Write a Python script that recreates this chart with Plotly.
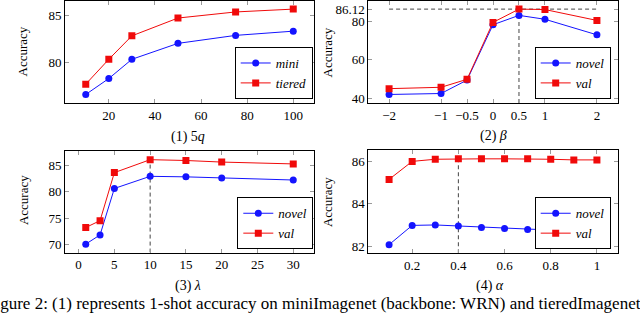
import plotly.graph_objects as go

# ---------------- data ----------------
q_vals = [10, 20, 30, 50, 75, 100]
q_mini = [76.6, 78.3, 80.35, 82.05, 82.9, 83.35]
q_tiered = [77.7, 80.35, 82.85, 84.75, 85.4, 85.7]

beta_vals = [-2, -1, -0.5, 0, 0.5, 1, 2]
beta_novel = [42.2, 42.7, 49.6, 78.1, 82.9, 80.9, 72.9]
beta_val = [45.2, 45.9, 50.0, 79.3, 86.12, 85.9, 80.3]

lambda_vals = [1, 3, 5, 10, 15, 20, 30]
lambda_novel = [70.05, 71.8, 80.6, 82.9, 82.8, 82.6, 82.2]
lambda_val = [73.2, 74.5, 83.6, 86.05, 85.9, 85.6, 85.25]

alpha_vals = [0.1, 0.2, 0.3, 0.4, 0.5, 0.6, 0.7, 0.8, 0.9, 1.0]
alpha_novel = [82.07, 82.98, 83.0, 82.95, 82.88, 82.83, 82.79, 82.76, 82.73, 82.70]
alpha_val = [85.15, 86.0, 86.1, 86.12, 86.12, 86.12, 86.12, 86.1, 86.07, 86.07]

best_beta = 0.5
best_lambda = 10
best_alpha = 0.4

q_xticks = [20, 40, 60, 80, 100]
q_yticks = [80, 85]
beta_xticks = [-2, -1, -0.5, 0, 0.5, 1, 2]
beta_xlabels = ["\u22122", "\u22121", "\u22120.5", "0", "0.5", "1", "2"]
beta_yticks = [40, 60, 80, 86.12]
beta_ylabels = ["40", "60", "80", "86.12"]
lambda_xticks = [0, 5, 10, 15, 20, 25, 30]
lambda_yticks = [70, 75, 80, 85]
alpha_xticks = [0.2, 0.4, 0.6, 0.8, 1]
alpha_xlabels = ["0.2", "0.4", "0.6", "0.8", "1"]
alpha_yticks = [82, 84, 86]

W, H = 640, 315
FONT = "Liberation Serif"
BLUE = "rgb(20,20,255)"
RED = "rgb(240,10,10)"


def enlarge(vals_a, vals_b=None):
    v = list(vals_a) + (list(vals_b) if vals_b else [])
    lo, hi = min(v), max(v)
    d = (hi - lo) * 0.1
    return [lo - d, hi + d]


def px(x):
    return x / W


def py(y):
    return 1 - y / H


fig = go.Figure()


def add_pair(xs, ya, yb, na, nb, axn, leg):
    xa = "x" if axn == 1 else f"x{axn}"
    yaa = "y" if axn == 1 else f"y{axn}"
    fig.add_trace(go.Scatter(x=xs, y=ya, name=na, mode="lines+markers",
                             line=dict(color=BLUE, width=1),
                             marker=dict(symbol="circle", size=7, color=BLUE),
                             xaxis=xa, yaxis=yaa, legend=leg))
    fig.add_trace(go.Scatter(x=xs, y=yb, name=nb, mode="lines+markers",
                             line=dict(color=RED, width=1),
                             marker=dict(symbol="square", size=7, color=RED),
                             xaxis=xa, yaxis=yaa, legend=leg))


add_pair(q_vals, q_mini, q_tiered, "<i>mini</i>", "<i>tiered</i>", 1, "legend")
add_pair(beta_vals, beta_novel, beta_val, "<i>novel</i>", "<i>val</i>", 2, "legend2")
add_pair(lambda_vals, lambda_novel, lambda_val, "<i>novel</i>", "<i>val</i>", 3, "legend3")
add_pair(alpha_vals, alpha_novel, alpha_val, "<i>novel</i>", "<i>val</i>", 4, "legend4")

tickfont = dict(family=FONT, size=13, color="black")


def axis(domain, rng, tickvals, ticktext=None):
    d = dict(domain=domain, range=rng, tickvals=tickvals, showline=True,
             linecolor="black", linewidth=1, mirror="allticks", ticks="inside",
             ticklen=4, tickcolor="#9a9a9a", tickwidth=1, showgrid=False,
             zeroline=False, tickfont=tickfont)
    if ticktext is not None:
        d["ticktext"] = ticktext
    return d


xd_left = [px(65), px(314)]
xd_right = [px(368.3), px(617.7)]
yd_top = [py(104), py(0.6)]
yd_bot3 = [py(255), py(152.7)]
yd_bot4 = [py(255.7), py(151.7)]

r_q_x = enlarge(q_vals)
r_q_y = enlarge(q_mini, q_tiered)
r_b_x = enlarge(beta_vals)
r_b_y = enlarge(beta_novel, beta_val)
r_l_x = enlarge(lambda_vals)
r_l_y = enlarge(lambda_novel, lambda_val)
r_a_x = enlarge(alpha_vals)
r_a_y = enlarge(alpha_novel, alpha_val)

legstyle = dict(bgcolor="white", bordercolor="black", borderwidth=1,
                font=dict(family=FONT, size=13, color="black"),
                xanchor="right", yanchor="bottom", tracegroupgap=0,
                itemwidth=30)

fig.update_layout(
    width=W, height=H, margin=dict(l=0, r=0, t=0, b=0),
    paper_bgcolor="white", plot_bgcolor="white",
    font=dict(family=FONT, size=13, color="black"),
    xaxis=axis(xd_left, r_q_x, q_xticks) | dict(anchor="y"),
    yaxis=axis(yd_top, r_q_y, q_yticks) | dict(anchor="x"),
    xaxis2=axis(xd_right, r_b_x, beta_xticks, beta_xlabels) | dict(anchor="y2"),
    yaxis2=axis(yd_top, r_b_y, beta_yticks, beta_ylabels) | dict(anchor="x2"),
    xaxis3=axis(xd_left, r_l_x, lambda_xticks) | dict(anchor="y3"),
    yaxis3=axis(yd_bot3, r_l_y, lambda_yticks) | dict(anchor="x3"),
    xaxis4=axis(xd_right, r_a_x, alpha_xticks, alpha_xlabels) | dict(anchor="y4"),
    yaxis4=axis(yd_bot4, r_a_y, alpha_yticks) | dict(anchor="x4"),
    legend=legstyle | dict(x=px(312.7), y=py(100)),
    legend2=legstyle | dict(x=px(610.7), y=py(100)),
    legend3=legstyle | dict(x=px(313.3), y=py(251.7)),
    legend4=legstyle | dict(x=px(610.7), y=py(251.7)),
    showlegend=True,
)

# dashed reference lines
dash = dict(color="#444444", width=1, dash="4px,3px")
ib = beta_vals.index(best_beta)
fig.add_shape(type="line", xref="x2", yref="y2", x0=beta_vals[0], x1=beta_vals[-1],
              y0=beta_val[ib], y1=beta_val[ib], line=dash, layer="below")
fig.add_shape(type="line", xref="x2", yref="y2", x0=best_beta, x1=best_beta,
              y0=r_b_y[0], y1=beta_val[ib], line=dash, layer="below")
il = lambda_vals.index(best_lambda)
fig.add_shape(type="line", xref="x3", yref="y3", x0=best_lambda, x1=best_lambda,
              y0=r_l_y[0], y1=lambda_val[il], line=dash, layer="below")
ia = alpha_vals.index(best_alpha)
fig.add_shape(type="line", xref="x4", yref="y4", x0=best_alpha, x1=best_alpha,
              y0=r_a_y[0], y1=alpha_val[ia], line=dash, layer="below")

# axis titles and sub-captions
anns = [
    ("Accuracy", 23, 52, -90, 13),
    ("Accuracy", 327, 53, -90, 13),
    ("Accuracy", 23, 202, -90, 13),
    ("Accuracy", 327, 204, -90, 13),
    ("(1) 5<i>q</i>", 188, 138, 0, 14),
    ("(2) <i>\u03b2</i>", 493, 137, 0, 14),
    ("(3) <i>\u03bb</i>", 188, 289, 0, 14),
    ("(4) <i>\u03b1</i>", 490, 289, 0, 14),
]
for text, x, y, ang, sz in anns:
    fig.add_annotation(text=text, x=px(x), y=py(y), xref="paper", yref="paper",
                       showarrow=False, textangle=ang, xanchor="center", yanchor="middle",
                       font=dict(family=FONT, size=sz, color="black"))

fig.add_annotation(
    text="Figure 2: (1) represents 1-shot accuracy on miniImagenet (backbone: WRN) and tieredImagenet (backbone: WRN).",
    x=px(-16), y=py(306), xref="paper", yref="paper", showarrow=False,
    xanchor="left", yanchor="middle", font=dict(family=FONT, size=17, color="black"))

fig.write_html("out.html", config={"displayModeBar": False},
               post_script="document.body.style.margin='0px';document.body.style.overflow='hidden';")
